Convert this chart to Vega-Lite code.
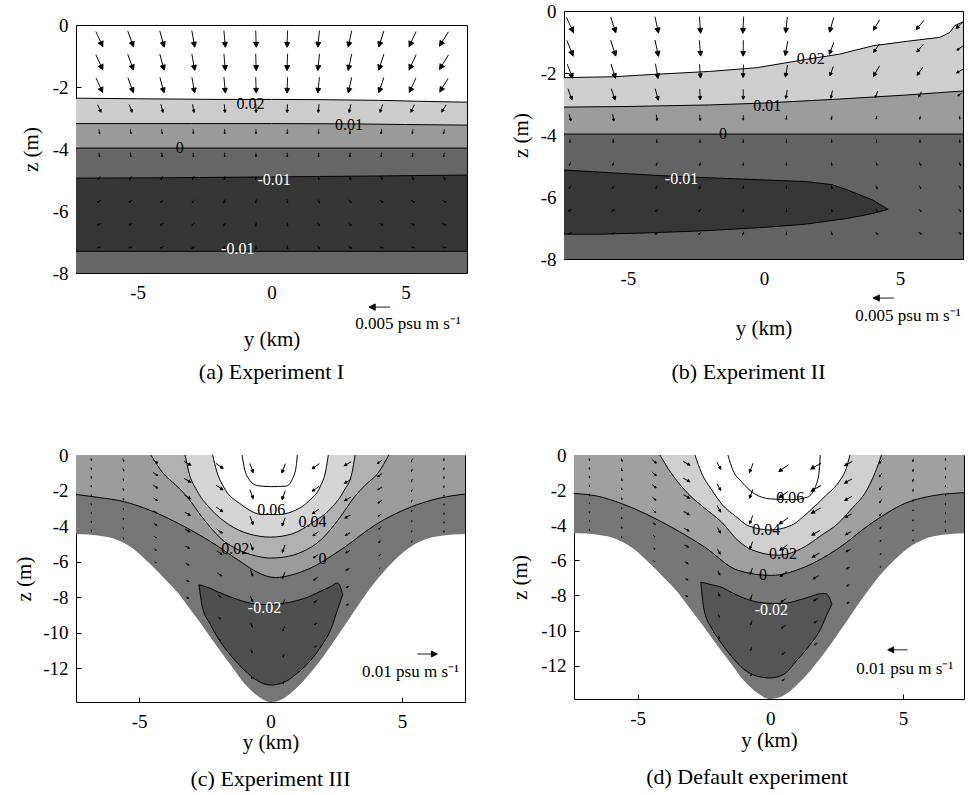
{
"$schema":"https://vega.github.io/schema/vega-lite/v6.json",
"background":"#ffffff",
"padding":{"left":13,"top":1,"right":2,"bottom":2},
"datasets":{
"curves":[
{"c":"a1","x":-7.3,"z":-2.36},{"c":"a1","x":-5,"z":-2.38},{"c":"a1","x":-2,"z":-2.4},{"c":"a1","x":0,"z":-2.4},{"c":"a1","x":2,"z":-2.41},{"c":"a1","x":4,"z":-2.43},{"c":"a1","x":5.5,"z":-2.46},{"c":"a1","x":7.3,"z":-2.49},
{"c":"a2","x":-7.3,"z":-3.18},{"c":"a2","x":-3,"z":-3.18},{"c":"a2","x":0,"z":-3.18},{"c":"a2","x":3,"z":-3.19},{"c":"a2","x":5,"z":-3.21},{"c":"a2","x":7.3,"z":-3.23},
{"c":"a3","x":-7.3,"z":-3.97},{"c":"a3","x":7.3,"z":-3.97},
{"c":"a4","x":-7.3,"z":-4.94},{"c":"a4","x":-4,"z":-4.93},{"c":"a4","x":0,"z":-4.9},{"c":"a4","x":4,"z":-4.87},{"c":"a4","x":7.3,"z":-4.84},
{"c":"a5","x":-7.3,"z":-7.3},{"c":"a5","x":7.3,"z":-7.3},
{"c":"b1","x":-7.35,"z":-2.15},{"c":"b1","x":-5.5,"z":-2.12},{"c":"b1","x":-3.95,"z":-2.04},{"c":"b1","x":-2,"z":-1.95},{"c":"b1","x":-0.27,"z":-1.83},{"c":"b1","x":1.57,"z":-1.56},{"c":"b1","x":2.79,"z":-1.39},{"c":"b1","x":4.02,"z":-1.12},{"c":"b1","x":5.24,"z":-0.98},{"c":"b1","x":6.47,"z":-0.85},{"c":"b1","x":6.84,"z":-0.69},{"c":"b1","x":7.02,"z":-0.47},{"c":"b1","x":7.32,"z":-0.35},
{"c":"b2","x":-7.35,"z":-3.1},{"c":"b2","x":-5,"z":-3.08},{"c":"b2","x":-2,"z":-3.03},{"c":"b2","x":0,"z":-2.97},{"c":"b2","x":2.79,"z":-2.84},{"c":"b2","x":5.24,"z":-2.71},{"c":"b2","x":7.32,"z":-2.58},
{"c":"b3","x":-7.35,"z":-3.97},{"c":"b3","x":7.32,"z":-3.97},
{"c":"c1","x":-1.08,"z":0},{"c":"c1","x":-1.0,"z":-0.7},{"c":"c1","x":-0.8,"z":-1.4},{"c":"c1","x":-0.5,"z":-1.72},{"c":"c1","x":0,"z":-1.78},{"c":"c1","x":0.6,"z":-1.75},{"c":"c1","x":0.85,"z":-1.3},{"c":"c1","x":0.98,"z":-0.6},{"c":"c1","x":1.02,"z":0},
{"c":"c2","x":-2.2,"z":0},{"c":"c2","x":-2.05,"z":-0.9},{"c":"c2","x":-1.8,"z":-1.75},{"c":"c2","x":-1.1,"z":-2.8},{"c":"c2","x":-0.3,"z":-3.35},{"c":"c2","x":0.3,"z":-3.35},{"c":"c2","x":0.8,"z":-3.2},{"c":"c2","x":1.45,"z":-2.6},{"c":"c2","x":1.9,"z":-1.75},{"c":"c2","x":2.1,"z":-0.9},{"c":"c2","x":2.2,"z":0},
{"c":"c3","x":-3.25,"z":0},{"c":"c3","x":-3.1,"z":-1.0},{"c":"c3","x":-2.8,"z":-2.0},{"c":"c3","x":-2.3,"z":-3.0},{"c":"c3","x":-1.6,"z":-3.9},{"c":"c3","x":-0.8,"z":-4.45},{"c":"c3","x":0,"z":-4.62},{"c":"c3","x":0.8,"z":-4.45},{"c":"c3","x":1.6,"z":-3.8},{"c":"c3","x":2.3,"z":-3.0},{"c":"c3","x":2.8,"z":-2.0},{"c":"c3","x":3.1,"z":-1.0},{"c":"c3","x":3.22,"z":0},
{"c":"c4","x":-4.55,"z":0},{"c":"c4","x":-4.1,"z":-1.0},{"c":"c4","x":-3.6,"z":-1.7},{"c":"c4","x":-3.2,"z":-2.3},{"c":"c4","x":-2.6,"z":-3.5},{"c":"c4","x":-1.85,"z":-4.75},{"c":"c4","x":-1.2,"z":-5.35},{"c":"c4","x":-0.5,"z":-5.7},{"c":"c4","x":0,"z":-5.8},{"c":"c4","x":0.5,"z":-5.75},{"c":"c4","x":1.2,"z":-5.45},{"c":"c4","x":1.9,"z":-4.8},{"c":"c4","x":2.6,"z":-3.6},{"c":"c4","x":3.2,"z":-2.35},{"c":"c4","x":3.6,"z":-1.7},{"c":"c4","x":4.1,"z":-1.0},{"c":"c4","x":4.5,"z":0},
{"c":"c5","x":-7.4,"z":-2.22},{"c":"c5","x":-6.58,"z":-2.38},{"c":"c5","x":-5.56,"z":-2.63},{"c":"c5","x":-4.6,"z":-3.1},{"c":"c5","x":-3.64,"z":-3.75},{"c":"c5","x":-2.36,"z":-4.8},{"c":"c5","x":-1.08,"z":-6.06},{"c":"c5","x":-0.5,"z":-6.6},{"c":"c5","x":0.19,"z":-6.9},{"c":"c5","x":0.8,"z":-6.75},{"c":"c5","x":1.47,"z":-6.4},{"c":"c5","x":2.75,"z":-5.26},{"c":"c5","x":4.02,"z":-3.9},{"c":"c5","x":5.3,"z":-2.95},{"c":"c5","x":6.58,"z":-2.38},{"c":"c5","x":7.4,"z":-2.2},
{"c":"bowl","x":-7.4,"z":-4.45},{"c":"bowl","x":-6.5,"z":-4.55},{"c":"bowl","x":-5.8,"z":-4.8},{"c":"bowl","x":-5.2,"z":-5.3},{"c":"bowl","x":-4.6,"z":-6.1},{"c":"bowl","x":-4.0,"z":-7.0},{"c":"bowl","x":-3.5,"z":-7.8},{"c":"bowl","x":-3.0,"z":-8.8},{"c":"bowl","x":-2.5,"z":-9.8},{"c":"bowl","x":-2.0,"z":-10.85},{"c":"bowl","x":-1.5,"z":-11.85},{"c":"bowl","x":-1.0,"z":-12.85},{"c":"bowl","x":-0.5,"z":-13.55},{"c":"bowl","x":0,"z":-13.9},{"c":"bowl","x":0.5,"z":-13.7},{"c":"bowl","x":1.0,"z":-13.1},{"c":"bowl","x":1.5,"z":-12.3},{"c":"bowl","x":2.0,"z":-11.35},{"c":"bowl","x":2.5,"z":-10.3},{"c":"bowl","x":3.0,"z":-9.2},{"c":"bowl","x":3.5,"z":-8.1},{"c":"bowl","x":4.0,"z":-7.1},{"c":"bowl","x":4.6,"z":-6.1},{"c":"bowl","x":5.2,"z":-5.3},{"c":"bowl","x":5.8,"z":-4.8},{"c":"bowl","x":6.5,"z":-4.55},{"c":"bowl","x":7.4,"z":-4.45},
{"c":"d06","x":-1.6,"z":0},{"c":"d06","x":-1.4,"z":-0.9},{"c":"d06","x":-1.1,"z":-1.5},{"c":"d06","x":-0.6,"z":-2.2},{"c":"d06","x":0,"z":-2.5},{"c":"d06","x":0.8,"z":-2.55},{"c":"d06","x":1.4,"z":-2.4},{"c":"d06","x":1.75,"z":-1.6},{"c":"d06","x":1.85,"z":-0.8},{"c":"d06","x":1.88,"z":0},
{"c":"d04","x":-2.84,"z":0},{"c":"d04","x":-2.6,"z":-1.0},{"c":"d04","x":-2.2,"z":-2.0},{"c":"d04","x":-1.8,"z":-2.85},{"c":"d04","x":-1.3,"z":-3.5},{"c":"d04","x":-0.8,"z":-4.05},{"c":"d04","x":0,"z":-4.27},{"c":"d04","x":0.8,"z":-4.0},{"c":"d04","x":1.47,"z":-3.2},{"c":"d04","x":2.1,"z":-2.3},{"c":"d04","x":2.6,"z":-1.5},{"c":"d04","x":2.85,"z":-0.8},{"c":"d04","x":3.0,"z":0},
{"c":"d02","x":-4.16,"z":0},{"c":"d02","x":-3.75,"z":-1.0},{"c":"d02","x":-3.1,"z":-2.2},{"c":"d02","x":-2.5,"z":-3.0},{"c":"d02","x":-1.85,"z":-3.8},{"c":"d02","x":-1.2,"z":-4.9},{"c":"d02","x":-0.7,"z":-5.4},{"c":"d02","x":0.3,"z":-5.71},{"c":"d02","x":1.28,"z":-5.24},{"c":"d02","x":1.9,"z":-4.6},{"c":"d02","x":2.55,"z":-3.9},{"c":"d02","x":3.1,"z":-3.0},{"c":"d02","x":3.56,"z":-2.19},{"c":"d02","x":3.95,"z":-1.0},{"c":"d02","x":4.19,"z":0},
{"c":"d0","x":-7.4,"z":-2.19},{"c":"d0","x":-6.5,"z":-2.35},{"c":"d0","x":-5.62,"z":-2.76},{"c":"d0","x":-4.7,"z":-3.35},{"c":"d0","x":-3.74,"z":-4.1},{"c":"d0","x":-2.48,"z":-5.24},{"c":"d0","x":-1.22,"z":-6.57},{"c":"d0","x":0.04,"z":-6.86},{"c":"d0","x":1.3,"z":-6.38},{"c":"d0","x":2.55,"z":-5.33},{"c":"d0","x":3.8,"z":-3.9},{"c":"d0","x":5.07,"z":-2.76},{"c":"d0","x":6.2,"z":-2.3},{"c":"d0","x":7.3,"z":-2.15}
],
"blobs":[
{"c":"b","x":-7.35,"z":-5.13,"z2":-7.2},{"c":"b","x":-6,"z":-5.2,"z2":-7.2},{"c":"b","x":-4,"z":-5.3,"z2":-7.15},{"c":"b","x":-2,"z":-5.38,"z2":-7.08},{"c":"b","x":0,"z":-5.45,"z2":-6.98},{"c":"b","x":1.5,"z":-5.5,"z2":-6.88},{"c":"b","x":2.5,"z":-5.6,"z2":-6.76},{"c":"b","x":3.0,"z":-5.75,"z2":-6.7},{"c":"b","x":3.5,"z":-5.92,"z2":-6.62},{"c":"b","x":4.0,"z":-6.1,"z2":-6.53},{"c":"b","x":4.57,"z":-6.4,"z2":-6.4},
{"c":"c","x":-2.72,"z":-7.3,"z2":-7.3},{"c":"c","x":-2.6,"z":-7.35,"z2":-8.5},{"c":"c","x":-2.3,"z":-7.5,"z2":-9.5},{"c":"c","x":-2.0,"z":-7.7,"z2":-10.3},{"c":"c","x":-1.5,"z":-8.0,"z2":-11.3},{"c":"c","x":-1.0,"z":-8.25,"z2":-12.1},{"c":"c","x":-0.5,"z":-8.4,"z2":-12.7},{"c":"c","x":0,"z":-8.42,"z2":-12.95},{"c":"c","x":0.5,"z":-8.35,"z2":-12.8},{"c":"c","x":1.0,"z":-8.2,"z2":-12.3},{"c":"c","x":1.5,"z":-7.95,"z2":-11.6},{"c":"c","x":2.0,"z":-7.6,"z2":-10.6},{"c":"c","x":2.3,"z":-7.4,"z2":-9.8},{"c":"c","x":2.55,"z":-7.2,"z2":-8.7},{"c":"c","x":2.75,"z":-7.85,"z2":-7.85},
{"c":"d","x":-2.62,"z":-7.25,"z2":-7.25},{"c":"d","x":-2.5,"z":-7.28,"z2":-8.8},{"c":"d","x":-2.2,"z":-7.4,"z2":-9.9},{"c":"d","x":-1.9,"z":-7.5,"z2":-10.6},{"c":"d","x":-1.5,"z":-7.8,"z2":-11.4},{"c":"d","x":-1.0,"z":-8.15,"z2":-12.2},{"c":"d","x":-0.5,"z":-8.38,"z2":-12.6},{"c":"d","x":0,"z":-8.45,"z2":-12.7},{"c":"d","x":0.5,"z":-8.45,"z2":-12.5},{"c":"d","x":1.0,"z":-8.3,"z2":-11.7},{"c":"d","x":1.5,"z":-8.07,"z2":-10.8},{"c":"d","x":1.9,"z":-7.9,"z2":-9.9},{"c":"d","x":2.1,"z":-7.9,"z2":-9.2},{"c":"d","x":2.32,"z":-8.5,"z2":-8.5}
],
"labels":[
{"p":"a","x":-0.78,"z":-2.55,"t":"0.02"},{"p":"a","x":2.89,"z":-3.23,"t":"0.01"},{"p":"a","x":-3.43,"z":-3.96,"t":"0"},{"p":"a","x":0.1,"z":-5.01,"t":"-0.01"},{"p":"a","x":-1.26,"z":-7.24,"t":"-0.01"},
{"p":"b","x":1.72,"z":-1.56,"t":"0.02"},{"p":"b","x":0.12,"z":-3.06,"t":"0.01"},{"p":"b","x":-1.5,"z":-3.98,"t":"0"},{"p":"b","x":-3.03,"z":-5.43,"t":"-0.01"},
{"p":"c","x":0.03,"z":-3.1,"t":"0.06"},{"p":"c","x":1.6,"z":-3.77,"t":"0.04"},{"p":"c","x":-1.34,"z":-5.3,"t":"0.02"},{"p":"c","x":1.98,"z":-5.87,"t":"0"},{"p":"c","x":-0.23,"z":-8.61,"t":"-0.02"},
{"p":"d","x":0.75,"z":-2.47,"t":"0.06"},{"p":"d","x":-0.15,"z":-4.29,"t":"0.04"},{"p":"d","x":0.48,"z":-5.62,"t":"0.02"},{"p":"d","x":-0.28,"z":-6.86,"t":"0"},{"p":"d","x":0.04,"z":-8.84,"t":"-0.02"}
],
"keyArrows":[
{"p":"a","x":4.03,"z":-9.1,"a":270,"m":5},{"p":"b","x":4.4,"z":-9.26,"a":270,"m":5},{"p":"c","x":5.97,"z":-11.2,"a":90,"m":10},{"p":"d","x":4.8,"z":-11.1,"a":270,"m":10}
],
"keyText":[
{"p":"a","x":5.1,"z":-9.65,"t":"0.005 psu m s⁻¹"},{"p":"b","x":5.3,"z":-9.84,"t":"0.005 psu m s⁻¹"},{"p":"c","x":5.33,"z":-12.2,"t":"0.01 psu m s⁻¹"},{"p":"d","x":5.07,"z":-12.2,"t":"0.01 psu m s⁻¹"}
],
"arrA":[
{"x":-6.43,"z":-0.45,"a":155,"m":4},{"x":-5.26,"z":-0.45,"a":160,"m":4},{"x":-4.09,"z":-0.45,"a":165,"m":4},{"x":-2.92,"z":-0.45,"a":170,"m":4},{"x":-1.75,"z":-0.45,"a":175,"m":4},{"x":-0.58,"z":-0.45,"a":178,"m":4},{"x":0.59,"z":-0.45,"a":182,"m":4},{"x":1.76,"z":-0.45,"a":186,"m":4},{"x":2.93,"z":-0.45,"a":192,"m":4},{"x":4.1,"z":-0.45,"a":198,"m":4},{"x":5.27,"z":-0.45,"a":205,"m":4},{"x":6.44,"z":-0.45,"a":212,"m":4},
{"x":-6.43,"z":-1.2,"a":155,"m":4},{"x":-5.26,"z":-1.2,"a":160,"m":4},{"x":-4.09,"z":-1.2,"a":165,"m":4},{"x":-2.92,"z":-1.2,"a":170,"m":4},{"x":-1.75,"z":-1.2,"a":175,"m":4},{"x":-0.58,"z":-1.2,"a":178,"m":4},{"x":0.59,"z":-1.2,"a":182,"m":4},{"x":1.76,"z":-1.2,"a":186,"m":4},{"x":2.93,"z":-1.2,"a":192,"m":4},{"x":4.1,"z":-1.2,"a":198,"m":4},{"x":5.27,"z":-1.2,"a":205,"m":4},{"x":6.44,"z":-1.2,"a":212,"m":4},
{"x":-6.43,"z":-1.94,"a":155,"m":3.8},{"x":-5.26,"z":-1.94,"a":160,"m":3.8},{"x":-4.09,"z":-1.94,"a":165,"m":3.8},{"x":-2.92,"z":-1.94,"a":170,"m":3.8},{"x":-1.75,"z":-1.94,"a":175,"m":3.8},{"x":-0.58,"z":-1.94,"a":178,"m":3.8},{"x":0.59,"z":-1.94,"a":182,"m":3.8},{"x":1.76,"z":-1.94,"a":186,"m":3.8},{"x":2.93,"z":-1.94,"a":192,"m":3.8},{"x":4.1,"z":-1.94,"a":198,"m":3.8},{"x":5.27,"z":-1.94,"a":205,"m":3.8},{"x":6.44,"z":-1.94,"a":212,"m":3.8},
{"x":-6.43,"z":-2.69,"a":155,"m":2},{"x":-5.26,"z":-2.69,"a":160,"m":2},{"x":-4.09,"z":-2.69,"a":165,"m":2},{"x":-2.92,"z":-2.69,"a":170,"m":2},{"x":-1.75,"z":-2.69,"a":175,"m":2},{"x":-0.58,"z":-2.69,"a":178,"m":2},{"x":0.59,"z":-2.69,"a":182,"m":2},{"x":1.76,"z":-2.69,"a":186,"m":2},{"x":2.93,"z":-2.69,"a":192,"m":2},{"x":4.1,"z":-2.69,"a":198,"m":2},{"x":5.27,"z":-2.69,"a":205,"m":2},{"x":6.44,"z":-2.69,"a":212,"m":2},
{"x":-6.43,"z":-3.44,"a":170,"m":1.1},{"x":-5.26,"z":-3.44,"a":172,"m":1.1},{"x":-4.09,"z":-3.44,"a":174,"m":1.1},{"x":-2.92,"z":-3.44,"a":176,"m":1.1},{"x":-1.75,"z":-3.44,"a":178,"m":1.1},{"x":-0.58,"z":-3.44,"a":180,"m":1.1},{"x":0.59,"z":-3.44,"a":180,"m":1.1},{"x":1.76,"z":-3.44,"a":182,"m":1.1},{"x":2.93,"z":-3.44,"a":184,"m":1.1},{"x":4.1,"z":-3.44,"a":186,"m":1.1},{"x":5.27,"z":-3.44,"a":188,"m":1.1},{"x":6.44,"z":-3.44,"a":190,"m":1.1},
{"x":-6.43,"z":-4.19,"a":170,"m":1},{"x":-5.26,"z":-4.19,"a":172,"m":1},{"x":-4.09,"z":-4.19,"a":174,"m":1},{"x":-2.92,"z":-4.19,"a":176,"m":1},{"x":-1.75,"z":-4.19,"a":178,"m":1},{"x":-0.58,"z":-4.19,"a":180,"m":1},{"x":0.59,"z":-4.19,"a":180,"m":1},{"x":1.76,"z":-4.19,"a":182,"m":1},{"x":2.93,"z":-4.19,"a":184,"m":1},{"x":4.1,"z":-4.19,"a":186,"m":1},{"x":5.27,"z":-4.19,"a":188,"m":1},{"x":6.44,"z":-4.19,"a":190,"m":1},
{"x":-6.43,"z":-4.93,"a":215,"m":0.9},{"x":-5.26,"z":-4.93,"a":215,"m":0.9},{"x":-4.09,"z":-4.93,"a":210,"m":0.9},{"x":-2.92,"z":-4.93,"a":205,"m":0.9},{"x":-1.75,"z":-4.93,"a":195,"m":0.9},{"x":-0.58,"z":-4.93,"a":185,"m":0.9},{"x":0.59,"z":-4.93,"a":175,"m":0.9},{"x":1.76,"z":-4.93,"a":165,"m":0.9},{"x":2.93,"z":-4.93,"a":155,"m":0.9},{"x":4.1,"z":-4.93,"a":150,"m":0.9},{"x":5.27,"z":-4.93,"a":145,"m":0.9},{"x":6.44,"z":-4.93,"a":145,"m":0.9},
{"x":-6.43,"z":-5.68,"a":235,"m":0.9},{"x":-5.26,"z":-5.68,"a":235,"m":0.9},{"x":-4.09,"z":-5.68,"a":230,"m":0.9},{"x":-2.92,"z":-5.68,"a":220,"m":0.9},{"x":-1.75,"z":-5.68,"a":205,"m":0.9},{"x":-0.58,"z":-5.68,"a":190,"m":0.9},{"x":0.59,"z":-5.68,"a":170,"m":0.9},{"x":1.76,"z":-5.68,"a":155,"m":0.9},{"x":2.93,"z":-5.68,"a":140,"m":0.9},{"x":4.1,"z":-5.68,"a":130,"m":0.9},{"x":5.27,"z":-5.68,"a":125,"m":0.9},{"x":6.44,"z":-5.68,"a":125,"m":0.9},
{"x":-6.43,"z":-6.43,"a":245,"m":0.9},{"x":-5.26,"z":-6.43,"a":245,"m":0.9},{"x":-4.09,"z":-6.43,"a":240,"m":0.9},{"x":-2.92,"z":-6.43,"a":230,"m":0.9},{"x":-1.75,"z":-6.43,"a":210,"m":0.9},{"x":-0.58,"z":-6.43,"a":190,"m":0.9},{"x":0.59,"z":-6.43,"a":170,"m":0.9},{"x":1.76,"z":-6.43,"a":150,"m":0.9},{"x":2.93,"z":-6.43,"a":130,"m":0.9},{"x":4.1,"z":-6.43,"a":120,"m":0.9},{"x":5.27,"z":-6.43,"a":115,"m":0.9},{"x":6.44,"z":-6.43,"a":115,"m":0.9},
{"x":-6.43,"z":-7.17,"a":255,"m":0.9},{"x":-5.26,"z":-7.17,"a":255,"m":0.9},{"x":-4.09,"z":-7.17,"a":250,"m":0.9},{"x":-2.92,"z":-7.17,"a":240,"m":0.9},{"x":-1.75,"z":-7.17,"a":215,"m":0.9},{"x":-0.58,"z":-7.17,"a":190,"m":0.9},{"x":0.59,"z":-7.17,"a":170,"m":0.9},{"x":1.76,"z":-7.17,"a":145,"m":0.9},{"x":2.93,"z":-7.17,"a":120,"m":0.9},{"x":4.1,"z":-7.17,"a":110,"m":0.9},{"x":5.27,"z":-7.17,"a":105,"m":0.9},{"x":6.44,"z":-7.17,"a":105,"m":0.9}
],
"arrB":[
{"x":-7.13,"z":-0.45,"a":155,"m":4},{"x":-5.54,"z":-0.45,"a":162,"m":4},{"x":-3.94,"z":-0.45,"a":168,"m":4},{"x":-2.35,"z":-0.45,"a":176,"m":4},{"x":-0.76,"z":-0.45,"a":183,"m":4},{"x":0.83,"z":-0.45,"a":186,"m":3.8},{"x":2.49,"z":-0.45,"a":196,"m":3.6},{"x":4.14,"z":-0.45,"a":210,"m":2.9},{"x":5.74,"z":-0.45,"a":220,"m":2.9},{"x":7.2,"z":-0.45,"a":225,"m":2.4},
{"x":-7.13,"z":-1.2,"a":158,"m":4},{"x":-5.54,"z":-1.2,"a":162,"m":4},{"x":-3.94,"z":-1.2,"a":168,"m":4},{"x":-2.35,"z":-1.2,"a":175,"m":3.8},{"x":-0.76,"z":-1.2,"a":181,"m":3.8},{"x":0.83,"z":-1.2,"a":190,"m":3.6},{"x":2.49,"z":-1.2,"a":200,"m":3.1},{"x":4.14,"z":-1.2,"a":215,"m":2.4},{"x":5.74,"z":-1.2,"a":220,"m":2.4},{"x":7.2,"z":-1.2,"a":235,"m":1.7},
{"x":-7.13,"z":-1.94,"a":158,"m":3.6},{"x":-5.54,"z":-1.94,"a":163,"m":3.6},{"x":-3.94,"z":-1.94,"a":170,"m":3.6},{"x":-2.35,"z":-1.94,"a":176,"m":3.3},{"x":-0.76,"z":-1.94,"a":182,"m":3.1},{"x":0.83,"z":-1.94,"a":190,"m":2.9},{"x":2.49,"z":-1.94,"a":200,"m":2.4},{"x":4.14,"z":-1.94,"a":210,"m":2.9},{"x":5.74,"z":-1.94,"a":215,"m":2.4},{"x":7.2,"z":-1.94,"a":240,"m":1.7},
{"x":-7.13,"z":-2.69,"a":160,"m":2.9},{"x":-5.54,"z":-2.69,"a":162,"m":2.9},{"x":-3.94,"z":-2.69,"a":165,"m":2.9},{"x":-2.35,"z":-2.69,"a":178,"m":2.6},{"x":-0.76,"z":-2.69,"a":180,"m":2.4},{"x":0.83,"z":-2.69,"a":190,"m":2.1},{"x":2.49,"z":-2.69,"a":192,"m":1.9},{"x":4.14,"z":-2.69,"a":200,"m":1.7},{"x":5.74,"z":-2.69,"a":210,"m":1.4},{"x":7.2,"z":-2.69,"a":230,"m":1.2},
{"x":-7.13,"z":-3.44,"a":165,"m":1.7},{"x":-5.54,"z":-3.44,"a":170,"m":1.7},{"x":-3.94,"z":-3.44,"a":172,"m":1.4},{"x":-2.35,"z":-3.44,"a":176,"m":1.4},{"x":-0.76,"z":-3.44,"a":180,"m":1.2},{"x":0.83,"z":-3.44,"a":185,"m":1},{"x":2.49,"z":-3.44,"a":190,"m":1},{"x":4.14,"z":-3.44,"a":195,"m":0.8},{"x":5.74,"z":-3.44,"a":190,"m":0.8},{"x":7.2,"z":-3.44,"a":180,"m":0.8},
{"x":-7.13,"z":-4.19,"a":180,"m":0.8},{"x":-5.54,"z":-4.19,"a":180,"m":0.8},{"x":-3.94,"z":-4.19,"a":180,"m":0.8},{"x":-2.35,"z":-4.19,"a":180,"m":0.8},{"x":-0.76,"z":-4.19,"a":180,"m":0.8},{"x":0.83,"z":-4.19,"a":180,"m":0.8},{"x":2.49,"z":-4.19,"a":180,"m":0.8},{"x":4.14,"z":-4.19,"a":180,"m":0.8},{"x":5.74,"z":-4.19,"a":180,"m":0.8},{"x":7.2,"z":-4.19,"a":180,"m":0.8},
{"x":-7.13,"z":-4.93,"a":200,"m":0.8},{"x":-5.54,"z":-4.93,"a":200,"m":0.8},{"x":-3.94,"z":-4.93,"a":195,"m":0.8},{"x":-2.35,"z":-4.93,"a":190,"m":0.8},{"x":-0.76,"z":-4.93,"a":185,"m":0.8},{"x":0.83,"z":-4.93,"a":180,"m":0.8},{"x":2.49,"z":-4.93,"a":175,"m":0.8},{"x":4.14,"z":-4.93,"a":160,"m":0.8},{"x":5.74,"z":-4.93,"a":150,"m":0.8},{"x":7.2,"z":-4.93,"a":150,"m":0.8},
{"x":-7.13,"z":-5.68,"a":220,"m":0.8},{"x":-5.54,"z":-5.68,"a":220,"m":0.8},{"x":-3.94,"z":-5.68,"a":215,"m":0.8},{"x":-2.35,"z":-5.68,"a":205,"m":0.8},{"x":-0.76,"z":-5.68,"a":195,"m":0.8},{"x":0.83,"z":-5.68,"a":180,"m":0.8},{"x":2.49,"z":-5.68,"a":165,"m":0.8},{"x":4.14,"z":-5.68,"a":150,"m":0.8},{"x":5.74,"z":-5.68,"a":145,"m":0.8},{"x":7.2,"z":-5.68,"a":145,"m":0.8},
{"x":-7.13,"z":-6.43,"a":240,"m":0.8},{"x":-5.54,"z":-6.43,"a":240,"m":0.8},{"x":-3.94,"z":-6.43,"a":235,"m":0.8},{"x":-2.35,"z":-6.43,"a":220,"m":0.8},{"x":-0.76,"z":-6.43,"a":200,"m":0.8},{"x":0.83,"z":-6.43,"a":180,"m":0.8},{"x":2.49,"z":-6.43,"a":160,"m":0.8},{"x":4.14,"z":-6.43,"a":140,"m":0.8},{"x":5.74,"z":-6.43,"a":130,"m":0.8},{"x":7.2,"z":-6.43,"a":130,"m":0.8},
{"x":-7.13,"z":-7.17,"a":250,"m":0.8},{"x":-5.54,"z":-7.17,"a":250,"m":0.8},{"x":-3.94,"z":-7.17,"a":245,"m":0.8},{"x":-2.35,"z":-7.17,"a":230,"m":0.8},{"x":-0.76,"z":-7.17,"a":205,"m":0.8},{"x":0.83,"z":-7.17,"a":180,"m":0.8},{"x":2.49,"z":-7.17,"a":160,"m":0.8},{"x":4.14,"z":-7.17,"a":135,"m":0.8},{"x":5.74,"z":-7.17,"a":120,"m":0.8},{"x":7.2,"z":-7.17,"a":120,"m":0.8}
],
"arrCD":[
{"x":-6.82,"z":-0.25,"ac":170,"mc":1.2,"ad":175,"md":1.2},{"x":-6.82,"z":-0.75,"ac":170,"mc":1.1,"ad":175,"md":1.1},{"x":-6.82,"z":-1.25,"ac":170,"mc":1.1,"ad":175,"md":1.1},{"x":-6.82,"z":-1.75,"ac":170,"mc":1.0,"ad":175,"md":1.0},{"x":-6.82,"z":-2.25,"ac":170,"mc":0.8,"ad":175,"md":0.8},{"x":-6.82,"z":-2.75,"ac":170,"mc":0.8,"ad":175,"md":0.8},{"x":-6.82,"z":-3.25,"ac":170,"mc":0.8,"ad":175,"md":0.8},{"x":-6.82,"z":-3.75,"ac":170,"mc":0.8,"ad":175,"md":0.8},{"x":-6.82,"z":-4.25,"ac":170,"mc":0.8,"ad":175,"md":0.8},
{"x":-5.6,"z":-0.28,"ac":160,"mc":1.5,"ad":165,"md":1.5},{"x":-5.6,"z":-0.83,"ac":160,"mc":1.4,"ad":165,"md":1.4},{"x":-5.6,"z":-1.38,"ac":160,"mc":1.4,"ad":165,"md":1.4},{"x":-5.6,"z":-1.93,"ac":160,"mc":1.2,"ad":165,"md":1.2},{"x":-5.6,"z":-2.48,"ac":160,"mc":1.1,"ad":165,"md":1.1},{"x":-5.6,"z":-3.03,"ac":160,"mc":0.8,"ad":165,"md":0.8},{"x":-5.6,"z":-3.58,"ac":160,"mc":0.8,"ad":165,"md":0.8},{"x":-5.6,"z":-4.13,"ac":160,"mc":0.8,"ad":165,"md":0.8},{"x":-5.6,"z":-4.68,"ac":160,"mc":0.8,"ad":165,"md":0.8},
{"x":-4.38,"z":-0.36,"ac":125,"mc":3,"ad":130,"md":3},{"x":-4.38,"z":-1.07,"ac":125,"mc":2.9,"ad":130,"md":2.9},{"x":-4.38,"z":-1.78,"ac":125,"mc":2.7,"ad":130,"md":2.7},{"x":-4.38,"z":-2.49,"ac":125,"mc":2.4,"ad":130,"md":2.4},{"x":-4.38,"z":-3.2,"ac":125,"mc":2.1,"ad":130,"md":2.1},{"x":-4.38,"z":-3.91,"ac":125,"mc":1.7,"ad":130,"md":1.7},{"x":-4.38,"z":-4.62,"ac":125,"mc":1.4,"ad":130,"md":1.4},{"x":-4.38,"z":-5.33,"ac":125,"mc":1.1,"ad":130,"md":1.1},{"x":-4.38,"z":-6.04,"ac":125,"mc":0.9,"ad":130,"md":0.9},
{"x":-3.16,"z":-0.47,"ac":120,"mc":4,"ad":120,"md":4},{"x":-3.16,"z":-1.42,"ac":120,"mc":3.8,"ad":120,"md":3.8},{"x":-3.16,"z":-2.36,"ac":120,"mc":3.6,"ad":120,"md":3.6},{"x":-3.16,"z":-3.31,"ac":120,"mc":3.2,"ad":120,"md":3.2},{"x":-3.16,"z":-4.25,"ac":120,"mc":2.8,"ad":120,"md":2.8},{"x":-3.16,"z":-5.19,"ac":120,"mc":2.2,"ad":120,"md":2.2},{"x":-3.16,"z":-6.14,"ac":120,"mc":1.8,"ad":120,"md":1.8},{"x":-3.16,"z":-7.08,"ac":120,"mc":1.4,"ad":120,"md":1.4},{"x":-3.16,"z":-8.03,"ac":120,"mc":1.2,"ad":120,"md":1.2},
{"x":-1.94,"z":-0.61,"ac":125,"mc":4.5,"ad":150,"md":4},{"x":-1.94,"z":-1.83,"ac":125,"mc":4.3,"ad":150,"md":3.8},{"x":-1.94,"z":-3.06,"ac":125,"mc":4.1,"ad":150,"md":3.6},{"x":-1.94,"z":-4.28,"ac":125,"mc":3.6,"ad":150,"md":3.2},{"x":-1.94,"z":-5.5,"ac":125,"mc":3.2,"ad":150,"md":2.8},{"x":-1.94,"z":-6.72,"ac":125,"mc":2.5,"ad":150,"md":2.2},{"x":-1.94,"z":-7.94,"ac":125,"mc":2,"ad":150,"md":1.8},{"x":-1.94,"z":-9.17,"ac":125,"mc":1.6,"ad":150,"md":1.4},{"x":-1.94,"z":-10.39,"ac":125,"mc":1.4,"ad":150,"md":1.2},
{"x":-0.72,"z":-0.74,"ac":160,"mc":5,"ad":200,"md":5},{"x":-0.72,"z":-2.21,"ac":160,"mc":4.8,"ad":200,"md":4.8},{"x":-0.72,"z":-3.68,"ac":160,"mc":4.5,"ad":200,"md":4.5},{"x":-0.72,"z":-5.15,"ac":160,"mc":4,"ad":200,"md":4},{"x":-0.72,"z":-6.63,"ac":160,"mc":3.5,"ad":200,"md":3.5},{"x":-0.72,"z":-8.1,"ac":160,"mc":2.8,"ad":200,"md":2.8},{"x":-0.72,"z":-9.57,"ac":160,"mc":2.3,"ad":200,"md":2.3},{"x":-0.72,"z":-11.04,"ac":160,"mc":1.8,"ad":200,"md":1.8},{"x":-0.72,"z":-12.51,"ac":160,"mc":1.5,"ad":200,"md":1.5},
{"x":0.5,"z":-0.75,"ac":200,"mc":5,"ad":235,"md":6},{"x":0.5,"z":-2.26,"ac":200,"mc":4.8,"ad":235,"md":5.7},{"x":0.5,"z":-3.76,"ac":200,"mc":4.5,"ad":235,"md":5.4},{"x":0.5,"z":-5.27,"ac":200,"mc":4,"ad":235,"md":4.8},{"x":0.5,"z":-6.78,"ac":200,"mc":3.5,"ad":235,"md":4.2},{"x":0.5,"z":-8.28,"ac":200,"mc":2.8,"ad":235,"md":3.3},{"x":0.5,"z":-9.78,"ac":200,"mc":2.3,"ad":235,"md":2.7},{"x":0.5,"z":-11.29,"ac":200,"mc":1.8,"ad":235,"md":2.1},{"x":0.5,"z":-12.8,"ac":200,"mc":1.5,"ad":235,"md":1.8},
{"x":1.72,"z":-0.63,"ac":235,"mc":4.5,"ad":240,"md":6},{"x":1.72,"z":-1.9,"ac":235,"mc":4.3,"ad":240,"md":5.7},{"x":1.72,"z":-3.17,"ac":235,"mc":4.1,"ad":240,"md":5.4},{"x":1.72,"z":-4.43,"ac":235,"mc":3.6,"ad":240,"md":4.8},{"x":1.72,"z":-5.7,"ac":235,"mc":3.2,"ad":240,"md":4.2},{"x":1.72,"z":-6.97,"ac":235,"mc":2.5,"ad":240,"md":3.3},{"x":1.72,"z":-8.23,"ac":235,"mc":2,"ad":240,"md":2.7},{"x":1.72,"z":-9.5,"ac":235,"mc":1.6,"ad":240,"md":2.1},{"x":1.72,"z":-10.77,"ac":235,"mc":1.4,"ad":240,"md":1.8},
{"x":2.94,"z":-0.49,"ac":240,"mc":4,"ad":240,"md":4.5},{"x":2.94,"z":-1.48,"ac":240,"mc":3.8,"ad":240,"md":4.3},{"x":2.94,"z":-2.47,"ac":240,"mc":3.6,"ad":240,"md":4.1},{"x":2.94,"z":-3.46,"ac":240,"mc":3.2,"ad":240,"md":3.6},{"x":2.94,"z":-4.45,"ac":240,"mc":2.8,"ad":240,"md":3.2},{"x":2.94,"z":-5.44,"ac":240,"mc":2.2,"ad":240,"md":2.5},{"x":2.94,"z":-6.43,"ac":240,"mc":1.8,"ad":240,"md":2},{"x":2.94,"z":-7.42,"ac":240,"mc":1.4,"ad":240,"md":1.6},{"x":2.94,"z":-8.41,"ac":240,"mc":1.2,"ad":240,"md":1.4},
{"x":4.16,"z":-0.38,"ac":235,"mc":3,"ad":215,"md":2.5},{"x":4.16,"z":-1.13,"ac":235,"mc":2.9,"ad":215,"md":2.4},{"x":4.16,"z":-1.88,"ac":235,"mc":2.7,"ad":215,"md":2.3},{"x":4.16,"z":-2.63,"ac":235,"mc":2.4,"ad":215,"md":2},{"x":4.16,"z":-3.38,"ac":235,"mc":2.1,"ad":215,"md":1.8},{"x":4.16,"z":-4.13,"ac":235,"mc":1.7,"ad":215,"md":1.4},{"x":4.16,"z":-4.88,"ac":235,"mc":1.4,"ad":215,"md":1.1},{"x":4.16,"z":-5.63,"ac":235,"mc":1.1,"ad":215,"md":0.9},{"x":4.16,"z":-6.38,"ac":235,"mc":0.9,"ad":215,"md":0.8},
{"x":5.38,"z":-0.29,"ac":200,"mc":1.5,"ad":190,"md":1.5},{"x":5.38,"z":-0.86,"ac":200,"mc":1.4,"ad":190,"md":1.4},{"x":5.38,"z":-1.43,"ac":200,"mc":1.4,"ad":190,"md":1.4},{"x":5.38,"z":-2.0,"ac":200,"mc":1.2,"ad":190,"md":1.2},{"x":5.38,"z":-2.58,"ac":200,"mc":1.1,"ad":190,"md":1.1},{"x":5.38,"z":-3.15,"ac":200,"mc":0.8,"ad":190,"md":0.8},{"x":5.38,"z":-3.72,"ac":200,"mc":0.8,"ad":190,"md":0.8},{"x":5.38,"z":-4.29,"ac":200,"mc":0.8,"ad":190,"md":0.8},{"x":5.38,"z":-4.86,"ac":200,"mc":0.8,"ad":190,"md":0.8},
{"x":6.6,"z":-0.25,"ac":190,"mc":1.2,"ad":180,"md":1.2},{"x":6.6,"z":-0.76,"ac":190,"mc":1.1,"ad":180,"md":1.1},{"x":6.6,"z":-1.26,"ac":190,"mc":1.1,"ad":180,"md":1.1},{"x":6.6,"z":-1.77,"ac":190,"mc":1.0,"ad":180,"md":1.0},{"x":6.6,"z":-2.28,"ac":190,"mc":0.8,"ad":180,"md":0.8},{"x":6.6,"z":-2.78,"ac":190,"mc":0.8,"ad":180,"md":0.8},{"x":6.6,"z":-3.29,"ac":190,"mc":0.8,"ad":180,"md":0.8},{"x":6.6,"z":-3.79,"ac":190,"mc":0.8,"ad":180,"md":0.8},{"x":6.6,"z":-4.3,"ac":190,"mc":0.8,"ad":180,"md":0.8}
]
},
"concat":[
{"vconcat":[
{"width":391,"height":1,"data":{"values":[]},"mark":"point","view":{"stroke":null}},
{"width":391,"height":248,
"title":{"text":"(a) Experiment I","orient":"bottom","offset":13},
"encoding":{
"x":{"field":"x","type":"quantitative","scale":{"domain":[-7.3,7.3],"nice":false,"zero":false},"axis":{"values":[-5,0,5],"title":"y (km)","titlePadding":26,"labelExpr":"toString(datum.value)"}},
"y":{"field":"z","type":"quantitative","scale":{"domain":[-8,0],"nice":false,"zero":false},"axis":{"values":[0,-2,-4,-6,-8],"title":"z (m)","titlePadding":11,"labelExpr":"toString(datum.value)"}}},
"layer":[
{"data":{"name":"curves"},"transform":[{"filter":"datum.c==='a1'"}],"mark":{"type":"area","color":"#cdcdcd","opacity":1,"clip":true},"encoding":{"y2":{"datum":-8}}},
{"data":{"name":"curves"},"transform":[{"filter":"datum.c==='a2'"}],"mark":{"type":"area","color":"#9b9b9b","opacity":1,"clip":true},"encoding":{"y2":{"datum":-8}}},
{"data":{"name":"curves"},"transform":[{"filter":"datum.c==='a3'"}],"mark":{"type":"area","color":"#666666","opacity":1,"clip":true},"encoding":{"y2":{"datum":-8}}},
{"data":{"name":"curves"},"transform":[{"filter":"datum.c==='a4'"}],"mark":{"type":"area","color":"#353535","opacity":1,"clip":true},"encoding":{"y2":{"datum":-8}}},
{"data":{"name":"curves"},"transform":[{"filter":"datum.c==='a5'"}],"mark":{"type":"area","color":"#666666","opacity":1,"clip":true},"encoding":{"y2":{"datum":-8}}},
{"data":{"name":"curves"},"transform":[{"filter":"indexof(['a1','a2','a3','a4','a5'],datum.c)>=0"}],"mark":{"type":"line","color":"#000","strokeWidth":1},"encoding":{"detail":{"field":"c"}}},
{"data":{"name":"arrA"},"mark":{"type":"point","shape":"M0,1L0,-0.55M-0.3,-0.4L0,-1L0.3,-0.4Z","filled":true,"color":"#000","stroke":"#000","strokeWidth":0.9,"opacity":1},"encoding":{"angle":{"field":"a","type":"quantitative","scale":null},"size":{"field":"m","type":"quantitative","scale":{"type":"pow","exponent":2,"domain":[0,5],"range":[0,441]},"legend":null}}},
{"data":{"name":"keyArrows"},"transform":[{"filter":"datum.p==='a'"}],"mark":{"type":"point","shape":"M0,1L0,-0.55M-0.3,-0.4L0,-1L0.3,-0.4Z","filled":true,"color":"#000","stroke":"#000","strokeWidth":0.9,"opacity":1},"encoding":{"angle":{"field":"a","type":"quantitative","scale":null},"size":{"field":"m","type":"quantitative","scale":{"type":"pow","exponent":2,"domain":[0,5],"range":[0,441]},"legend":null}}},
{"data":{"name":"keyText"},"transform":[{"filter":"datum.p==='a'"}],"mark":{"type":"text","font":"Liberation Serif","fontSize":17,"color":"#000"},"encoding":{"text":{"field":"t"}}},
{"data":{"name":"labels"},"transform":[{"filter":"datum.p==='a'"}],"mark":{"type":"text","font":"Liberation Serif","fontSize":16},"encoding":{"text":{"field":"t"},"color":{"condition":{"test":"toNumber(datum.t)<0","value":"#ffffff"},"value":"#000000"}}},
{"data":{"values":[{}]},"mark":{"type":"rect","filled":false,"color":"#000","strokeWidth":1},"encoding":{"x":{"datum":-7.3},"x2":{"datum":7.3},"y":{"datum":-8},"y2":{"datum":0}}}
]}
],"spacing":3},
{"width":399,"height":248,
"title":{"text":"(b) Experiment II","orient":"bottom","offset":24,"dx":-15},
"encoding":{
"x":{"field":"x","type":"quantitative","scale":{"domain":[-7.35,7.32],"nice":false,"zero":false},"axis":{"values":[-5,0,5],"title":"y (km)","titlePadding":29,"labelExpr":"toString(datum.value)"}},
"y":{"field":"z","type":"quantitative","scale":{"domain":[-8,0],"nice":false,"zero":false},"axis":{"values":[0,-2,-4,-6,-8],"title":"z (m)","titlePadding":9,"labelExpr":"toString(datum.value)"}}},
"layer":[
{"data":{"name":"curves"},"transform":[{"filter":"datum.c==='b1'"}],"mark":{"type":"area","color":"#cfcfcf","opacity":1,"clip":true},"encoding":{"y2":{"datum":-8}}},
{"data":{"name":"curves"},"transform":[{"filter":"datum.c==='b2'"}],"mark":{"type":"area","color":"#9c9c9c","opacity":1,"clip":true},"encoding":{"y2":{"datum":-8}}},
{"data":{"name":"curves"},"transform":[{"filter":"datum.c==='b3'"}],"mark":{"type":"area","color":"#636363","opacity":1,"clip":true},"encoding":{"y2":{"datum":-8}}},
{"data":{"name":"blobs"},"transform":[{"filter":"datum.c==='b'"}],"mark":{"type":"area","color":"#363636","opacity":1,"clip":true},"encoding":{"y2":{"field":"z2"}}},
{"data":{"name":"curves"},"transform":[{"filter":"indexof(['b1','b2','b3'],datum.c)>=0"}],"mark":{"type":"line","color":"#000","strokeWidth":1},"encoding":{"detail":{"field":"c"}}},
{"data":{"name":"blobs"},"transform":[{"filter":"datum.c==='b'"}],"mark":{"type":"line","color":"#000","strokeWidth":1}},
{"data":{"name":"blobs"},"transform":[{"filter":"datum.c==='b'"}],"mark":{"type":"line","color":"#000","strokeWidth":1},"encoding":{"y":{"field":"z2","type":"quantitative"}}},
{"data":{"name":"arrB"},"mark":{"type":"point","shape":"M0,1L0,-0.55M-0.3,-0.4L0,-1L0.3,-0.4Z","filled":true,"color":"#000","stroke":"#000","strokeWidth":0.9,"opacity":1},"encoding":{"angle":{"field":"a","type":"quantitative","scale":null},"size":{"field":"m","type":"quantitative","scale":{"type":"pow","exponent":2,"domain":[0,5],"range":[0,441]},"legend":null}}},
{"data":{"name":"keyArrows"},"transform":[{"filter":"datum.p==='b'"}],"mark":{"type":"point","shape":"M0,1L0,-0.55M-0.3,-0.4L0,-1L0.3,-0.4Z","filled":true,"color":"#000","stroke":"#000","strokeWidth":0.9,"opacity":1},"encoding":{"angle":{"field":"a","type":"quantitative","scale":null},"size":{"field":"m","type":"quantitative","scale":{"type":"pow","exponent":2,"domain":[0,5],"range":[0,441]},"legend":null}}},
{"data":{"name":"keyText"},"transform":[{"filter":"datum.p==='b'"}],"mark":{"type":"text","font":"Liberation Serif","fontSize":17,"color":"#000"},"encoding":{"text":{"field":"t"}}},
{"data":{"name":"labels"},"transform":[{"filter":"datum.p==='b'"}],"mark":{"type":"text","font":"Liberation Serif","fontSize":16},"encoding":{"text":{"field":"t"},"color":{"condition":{"test":"toNumber(datum.t)<0","value":"#ffffff"},"value":"#000000"}}},
{"data":{"values":[{}]},"mark":{"type":"rect","filled":false,"color":"#000","strokeWidth":1},"encoding":{"x":{"datum":-7.35},"x2":{"datum":7.32},"y":{"datum":-8},"y2":{"datum":0}}}
]},
{"width":389,"height":247,
"title":{"text":"(c) Experiment III","orient":"bottom","offset":17},
"encoding":{
"x":{"field":"x","type":"quantitative","scale":{"domain":[-7.4,7.4],"nice":false,"zero":false},"axis":{"values":[-5,0,5],"title":"y (km)","titlePadding":0,"labelExpr":"toString(datum.value)"}},
"y":{"field":"z","type":"quantitative","scale":{"domain":[-13.9,0],"nice":false,"zero":false},"axis":{"values":[0,-2,-4,-6,-8,-10,-12],"title":"z (m)","titlePadding":8,"labelExpr":"toString(datum.value)"}}},
"layer":[
{"data":{"name":"curves"},"transform":[{"filter":"datum.c==='bowl'"}],"mark":{"type":"area","color":"#767676","opacity":1,"clip":true,"interpolate":"monotone"},"encoding":{"y2":{"datum":0}}},
{"data":{"name":"curves"},"transform":[{"filter":"datum.c==='c5'"}],"mark":{"type":"area","color":"#9c9c9c","opacity":1,"clip":true,"interpolate":"monotone"},"encoding":{"y2":{"datum":0}}},
{"data":{"name":"curves"},"transform":[{"filter":"datum.c==='c4'"}],"mark":{"type":"area","color":"#b1b1b1","opacity":1,"clip":true,"interpolate":"monotone"},"encoding":{"y2":{"datum":0}}},
{"data":{"name":"curves"},"transform":[{"filter":"datum.c==='c3'"}],"mark":{"type":"area","color":"#d5d5d5","opacity":1,"clip":true,"interpolate":"monotone"},"encoding":{"y2":{"datum":0}}},
{"data":{"name":"curves"},"transform":[{"filter":"datum.c==='c2'"}],"mark":{"type":"area","color":"#ffffff","opacity":1,"clip":true,"interpolate":"monotone"},"encoding":{"y2":{"datum":0}}},
{"data":{"name":"blobs"},"transform":[{"filter":"datum.c==='c'"}],"mark":{"type":"area","color":"#4e4e4e","opacity":1,"clip":true,"interpolate":"monotone"},"encoding":{"y2":{"field":"z2"}}},
{"data":{"name":"curves"},"transform":[{"filter":"indexof(['c1','c2','c3','c4','c5'],datum.c)>=0"}],"mark":{"type":"line","color":"#000","strokeWidth":1,"interpolate":"monotone","clip":true},"encoding":{"detail":{"field":"c"}}},
{"data":{"name":"blobs"},"transform":[{"filter":"datum.c==='c'"}],"mark":{"type":"line","color":"#000","strokeWidth":1,"interpolate":"monotone"}},
{"data":{"name":"blobs"},"transform":[{"filter":"datum.c==='c'"}],"mark":{"type":"line","color":"#000","strokeWidth":1,"interpolate":"monotone"},"encoding":{"y":{"field":"z2","type":"quantitative"}}},
{"data":{"name":"arrCD"},"mark":{"type":"point","shape":"M0,1L0,-0.55M-0.3,-0.4L0,-1L0.3,-0.4Z","filled":true,"color":"#000","stroke":"#000","strokeWidth":0.9,"opacity":1},"encoding":{"angle":{"field":"ac","type":"quantitative","scale":null},"size":{"field":"mc","type":"quantitative","scale":{"type":"pow","exponent":2,"domain":[0,10],"range":[0,400]},"legend":null}}},
{"data":{"name":"keyArrows"},"transform":[{"filter":"datum.p==='c'"}],"mark":{"type":"point","shape":"M0,1L0,-0.55M-0.3,-0.4L0,-1L0.3,-0.4Z","filled":true,"color":"#000","stroke":"#000","strokeWidth":0.9,"opacity":1},"encoding":{"angle":{"field":"a","type":"quantitative","scale":null},"size":{"field":"m","type":"quantitative","scale":{"type":"pow","exponent":2,"domain":[0,10],"range":[0,400]},"legend":null}}},
{"data":{"name":"keyText"},"transform":[{"filter":"datum.p==='c'"}],"mark":{"type":"text","font":"Liberation Serif","fontSize":17,"color":"#000"},"encoding":{"text":{"field":"t"}}},
{"data":{"name":"labels"},"transform":[{"filter":"datum.p==='c'"}],"mark":{"type":"text","font":"Liberation Serif","fontSize":16},"encoding":{"text":{"field":"t"},"color":{"condition":{"test":"toNumber(datum.t)<0","value":"#ffffff"},"value":"#000000"}}},
{"data":{"values":[{}]},"mark":{"type":"rect","filled":false,"color":"#000","strokeWidth":1},"encoding":{"x":{"datum":-7.4},"x2":{"datum":7.4},"y":{"datum":-13.9},"y2":{"datum":0}}}
]},
{"width":390,"height":244,
"title":{"text":"(d) Default experiment","orient":"bottom","offset":17,"dx":-22},
"encoding":{
"x":{"field":"x","type":"quantitative","scale":{"domain":[-7.4,7.3],"nice":false,"zero":false},"axis":{"values":[-5,0,5],"title":"y (km)","titlePadding":1,"labelExpr":"toString(datum.value)"}},
"y":{"field":"z","type":"quantitative","scale":{"domain":[-13.9,0],"nice":false,"zero":false},"axis":{"values":[0,-2,-4,-6,-8,-10,-12],"title":"z (m)","titlePadding":10,"labelExpr":"toString(datum.value)"}}},
"layer":[
{"data":{"name":"curves"},"transform":[{"filter":"datum.c==='bowl'"}],"mark":{"type":"area","color":"#777777","opacity":1,"clip":true,"interpolate":"monotone"},"encoding":{"y2":{"datum":0}}},
{"data":{"name":"curves"},"transform":[{"filter":"datum.c==='d0'"}],"mark":{"type":"area","color":"#a0a0a0","opacity":1,"clip":true,"interpolate":"monotone"},"encoding":{"y2":{"datum":0}}},
{"data":{"name":"curves"},"transform":[{"filter":"datum.c==='d02'"}],"mark":{"type":"area","color":"#d0d0d0","opacity":1,"clip":true,"interpolate":"monotone"},"encoding":{"y2":{"datum":0}}},
{"data":{"name":"curves"},"transform":[{"filter":"datum.c==='d04'"}],"mark":{"type":"area","color":"#ffffff","opacity":1,"clip":true,"interpolate":"monotone"},"encoding":{"y2":{"datum":0}}},
{"data":{"name":"blobs"},"transform":[{"filter":"datum.c==='d'"}],"mark":{"type":"area","color":"#555555","opacity":1,"clip":true,"interpolate":"monotone"},"encoding":{"y2":{"field":"z2"}}},
{"data":{"name":"curves"},"transform":[{"filter":"indexof(['d06','d04','d02','d0'],datum.c)>=0"}],"mark":{"type":"line","color":"#000","strokeWidth":1,"interpolate":"monotone","clip":true},"encoding":{"detail":{"field":"c"}}},
{"data":{"name":"blobs"},"transform":[{"filter":"datum.c==='d'"}],"mark":{"type":"line","color":"#000","strokeWidth":1,"interpolate":"monotone"}},
{"data":{"name":"blobs"},"transform":[{"filter":"datum.c==='d'"}],"mark":{"type":"line","color":"#000","strokeWidth":1,"interpolate":"monotone"},"encoding":{"y":{"field":"z2","type":"quantitative"}}},
{"data":{"name":"arrCD"},"mark":{"type":"point","shape":"M0,1L0,-0.55M-0.3,-0.4L0,-1L0.3,-0.4Z","filled":true,"color":"#000","stroke":"#000","strokeWidth":0.9,"opacity":1},"encoding":{"angle":{"field":"ad","type":"quantitative","scale":null},"size":{"field":"md","type":"quantitative","scale":{"type":"pow","exponent":2,"domain":[0,10],"range":[0,400]},"legend":null}}},
{"data":{"name":"keyArrows"},"transform":[{"filter":"datum.p==='d'"}],"mark":{"type":"point","shape":"M0,1L0,-0.55M-0.3,-0.4L0,-1L0.3,-0.4Z","filled":true,"color":"#000","stroke":"#000","strokeWidth":0.9,"opacity":1},"encoding":{"angle":{"field":"a","type":"quantitative","scale":null},"size":{"field":"m","type":"quantitative","scale":{"type":"pow","exponent":2,"domain":[0,10],"range":[0,400]},"legend":null}}},
{"data":{"name":"keyText"},"transform":[{"filter":"datum.p==='d'"}],"mark":{"type":"text","font":"Liberation Serif","fontSize":17,"color":"#000"},"encoding":{"text":{"field":"t"}}},
{"data":{"name":"labels"},"transform":[{"filter":"datum.p==='d'"}],"mark":{"type":"text","font":"Liberation Serif","fontSize":16},"encoding":{"text":{"field":"t"},"color":{"condition":{"test":"toNumber(datum.t)<0","value":"#ffffff"},"value":"#000000"}}},
{"data":{"values":[{}]},"mark":{"type":"rect","filled":false,"color":"#000","strokeWidth":1},"encoding":{"x":{"datum":-7.4},"x2":{"datum":7.3},"y":{"datum":-13.9},"y2":{"datum":0}}}
]}
],
"columns":2,
"align":"none",
"spacing":{"row":61,"column":39},
"resolve":{"scale":{"x":"independent","y":"independent","size":"independent"}},
"config":{
"view":{"stroke":"#000","strokeWidth":1},
"axis":{"labelFont":"Liberation Serif","labelFontSize":19,"labelColor":"#000","titleFont":"Liberation Serif","titleFontSize":21,"titleFontWeight":"normal","titleColor":"#000","domain":false,"grid":false,"ticks":true,"tickSize":-5,"tickColor":"#000","labelPadding":15,"zindex":1},
"axisY":{"labelPadding":13},
"title":{"font":"Liberation Serif","fontSize":22,"fontWeight":"normal","color":"#000","anchor":"middle","frame":"group"},
"text":{"font":"Liberation Serif"}
}
}
